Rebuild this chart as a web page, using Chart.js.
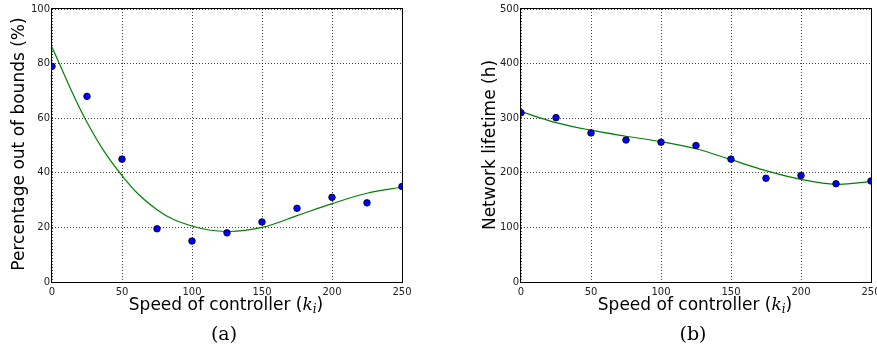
<!DOCTYPE html>
<html>
<head>
<meta charset="utf-8">
<script src="https://cdn.jsdelivr.net/npm/chart.js@4.4.0/dist/chart.umd.min.js"></script>
<style>
html,body{margin:0;padding:0;background:#fff;}
#wrap{position:relative;width:877px;height:351px;overflow:hidden;}
canvas{position:absolute;top:0;}
#chartA{left:0;}
#chartB{left:440px;}
</style>
</head>
<body>
<div id="wrap">
  <canvas id="chartA" width="437" height="351"></canvas>
  <canvas id="chartB" width="437" height="351"></canvas>
</div>
<script>
// controller speed k_i (x axis, both panels)
var speeds = [0, 25, 50, 75, 100, 125, 150, 175, 200, 225, 250];
var xTicks = [0, 50, 100, 150, 200, 250];

// (a) percentage out of bounds: measured points and fitted curve
var outOfBounds = [79, 68, 45, 19.5, 15, 18, 22, 27, 31, 29, 35];
var outOfBoundsFit = [86, 58.5, 39, 26.5, 20.5, 18.5, 20, 24.3, 28.7, 32.5, 34.8];
var pctTicks = [0, 20, 40, 60, 80, 100];

// (b) network lifetime in hours: measured points and fitted curve
var lifetime = [310, 301, 273, 260, 256, 250, 225, 190, 195, 180, 185];
var lifetimeFit = [312, 292, 278, 267, 257, 244, 224, 204, 188, 179, 184];
var hourTicks = [0, 100, 200, 300, 400, 500];

function pairs(xs, ys){
    return xs.map(function(x, i){ return {x: x, y: ys[i]}; });
}

function textPlugin(opts){
    return {
        id: 'panelText',
        afterDraw: function(chart){
            var ctx = chart.ctx, a = chart.chartArea;
            ctx.save();
            // frame round the axes
            ctx.strokeStyle = '#000';
            ctx.lineWidth = 1;
            ctx.setLineDash([]);
            ctx.strokeRect(a.left - 0.5, a.top - 0.5, a.right - a.left + 1, a.bottom - a.top + 1);

            ctx.fillStyle = '#000';
            ctx.textBaseline = 'alphabetic';
            // x title with italic k_i
            var parts = [
                ['Speed of controller (', '17px "DejaVu Sans"', 0],
                ['k', 'italic 17px "DejaVu Serif"', 0],
                ['i', 'italic 12px "DejaVu Serif"', 3],
                [')', '17px "DejaVu Sans"', 0]
            ];
            var w = 0;
            parts.forEach(function(p){ ctx.font = p[1]; w += ctx.measureText(p[0]).width; });
            var x = opts.xTitleX - w / 2;
            ctx.textAlign = 'left';
            parts.forEach(function(p){
                ctx.font = p[1];
                ctx.fillText(p[0], x, opts.xTitleY + p[2]);
                x += ctx.measureText(p[0]).width;
            });

            // y title
            ctx.save();
            ctx.translate(opts.yTitleX, opts.yTitleY);
            ctx.rotate(-Math.PI / 2);
            ctx.font = '17px "DejaVu Sans"';
            ctx.textAlign = 'center';
            ctx.textBaseline = 'middle';
            ctx.fillText(opts.yTitle, 0, 0);
            ctx.restore();

            // sub caption
            ctx.font = '19px "DejaVu Serif"';
            ctx.textAlign = 'center';
            ctx.textBaseline = 'middle';
            ctx.fillText(opts.caption, opts.captionX, 335);
            ctx.restore();
        }
    };
}

function makePanel(id, points, fit, yTicks, yMax, yWidth, rightPad, opts){
    var el = document.getElementById(id);
    var tickFont = {family: '"DejaVu Sans"', size: 10};
    return new Chart(el.getContext('2d'), {
        type: 'scatter',
        data: {
            datasets: [
                { label: 'data', data: pairs(speeds, points), backgroundColor: '#0000ff', borderColor: '#000',
                  borderWidth: 0.8, pointRadius: 3.3, showLine: false, clip: 0, order: 0 },
                { label: 'fit', data: pairs(speeds, fit), borderColor: '#008000', borderWidth: 1.2,
                  pointRadius: 0, showLine: true, tension: 0.4, clip: 0, order: 1 }
            ]
        },
        options: {
            responsive: false,
            animation: false,
            devicePixelRatio: 1,
            layout: {padding: {top: 9, right: rightPad, left: 0, bottom: 0}},
            plugins: {legend: {display: false}, tooltip: {enabled: false}},
            scales: {
                x: {
                    type: 'linear', min: 0, max: 250,
                    afterBuildTicks: function(s){ s.ticks = xTicks.map(function(v){ return {value: v}; }); },
                    afterFit: function(s){ s.height = 69; s.paddingLeft = 0; s.paddingRight = 0; },
                    grid: {color: 'rgba(0,0,0,0.75)', lineWidth: 1, drawTicks: false},
                    border: {display: false, dash: [1, 2]},
                    ticks: {font: tickFont, color: '#222', padding: 4, maxRotation: 0}
                },
                y: {
                    type: 'linear', min: 0, max: yMax,
                    afterBuildTicks: function(s){ s.ticks = yTicks.map(function(v){ return {value: v}; }); },
                    afterFit: function(s){ s.width = yWidth; s.paddingTop = 0; s.paddingBottom = 0; },
                    grid: {color: 'rgba(0,0,0,0.75)', lineWidth: 1, drawTicks: false},
                    border: {display: false, dash: [1, 2]},
                    ticks: {font: tickFont, color: '#222', padding: 2}
                }
            }
        },
        plugins: [textPlugin(opts)]
    });
}

makePanel('chartA', outOfBounds, outOfBoundsFit, pctTicks, 100, 52, 35,
    {xTitleX: 226, xTitleY: 310, yTitle: 'Percentage out of bounds (%)', yTitleX: 20, yTitleY: 144, caption: '(a)', captionX: 224});
makePanel('chartB', lifetime, lifetimeFit, hourTicks, 500, 81, 6,
    {xTitleX: 255, xTitleY: 310, yTitle: 'Network lifetime (h)', yTitleX: 51, yTitleY: 145, caption: '(b)', captionX: 253});
</script>
</body>
</html>
